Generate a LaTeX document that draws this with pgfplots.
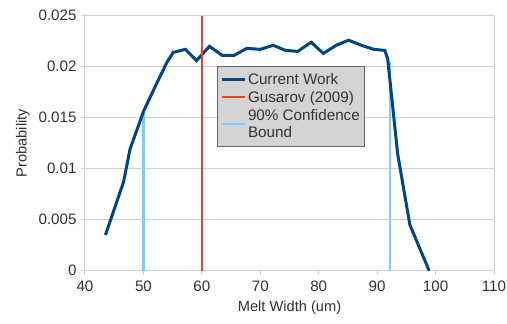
\documentclass[border=0pt]{standalone}
\usepackage{fontspec}
\setmainfont{Liberation Sans}
\usepackage{pgfplots}
\pgfplotsset{compat=1.18}
\definecolor{cw}{HTML}{004586}
\definecolor{gus}{HTML}{F0412A}
\definecolor{cb}{HTML}{83CAFF}
\definecolor{gridc}{HTML}{D0D0D0}
\definecolor{txt}{HTML}{333333}
\begin{document}
\begin{tikzpicture}
\begin{axis}[
  scale only axis,
  width=409bp, height=255bp,
  xmin=40, xmax=110, ymin=0, ymax=0.025,
  xtick={40,50,...,110},
  ytick={0,0.005,0.01,0.015,0.02,0.025},
  yticklabels={0,0.005,0.01,0.015,0.02,0.025},
  scaled y ticks=false,
  /pgf/number format/assume math mode=true,
  ymajorgrids, grid style={gridc, line width=1bp},
  axis line style={gridc, line width=1bp},
  tick style={gridc, line width=1bp},
  tick align=outside, major tick length=4bp,
  xtick pos=bottom, ytick pos=left,
  ticklabel style={font=\fontsize{15.2}{17}\selectfont, text=txt},
  xticklabel style={yshift=-3bp},
  yticklabel style={xshift=-1bp},
  label style={font=\fontsize{14.7}{16}\selectfont, text=txt},
  xlabel={Melt Width (um)}, ylabel={Probability},
  xlabel style={yshift=-2bp},
  ylabel style={yshift=2bp},
  legend style={at={(0.323,0.804)}, anchor=north west, fill=black!17, draw=black!60, line width=0.8bp,
    font=\fontsize{15.3}{17.3}\selectfont, nodes={align=left, text=txt, inner sep=1.5bp},
    inner xsep=3bp, inner ysep=5.5bp, row sep=2.5bp},
  legend cell align=left,
  legend image code/.code={\draw[#1] (0bp,0bp) -- (23bp,0bp);},
]
\addplot[cb, line width=2.2bp, forget plot] coordinates {(50,0)(50,0.0156)};
\addplot[cb, line width=2.2bp, forget plot] coordinates {(92.2,0)(92.2,0.0205)};
\addplot[cw, line width=3bp] coordinates {
(43.5,0.0035)(46.6,0.0087)(47.7,0.0119)(50,0.0156)(52.3,0.0184)(54,0.0204)(55.1,0.0214)
(57.2,0.0217)(59.1,0.0206)(61.3,0.0220)(63.5,0.0211)(65.5,0.0211)(67.7,0.0218)(70,0.0217)
(72.2,0.0221)(74.3,0.0216)(76.4,0.0215)(78.7,0.0224)(80.8,0.0213)(83,0.0221)(85.1,0.0226)
(87.3,0.0221)(89.4,0.0217)(91.3,0.0216)(91.8,0.0208)(93.5,0.0115)(95.6,0.0045)(98.9,0)
};
\addlegendentry{Current Work}
\addplot[gus, line width=2.2bp] coordinates {(60,0)(60,0.025)};
\addlegendentry{Gusarov (2009)}
\addlegendimage{cb, line width=2.2bp}
\addlegendentry{90\% Confidence\\Bound}
\end{axis}
\pgfresetboundingbox
\path[use as bounding box] ([shift={(-85bp,-53bp)}]current axis.south west) rectangle ([shift={(13bp,15.7bp)}]current axis.north east);
\end{tikzpicture}
\end{document}
